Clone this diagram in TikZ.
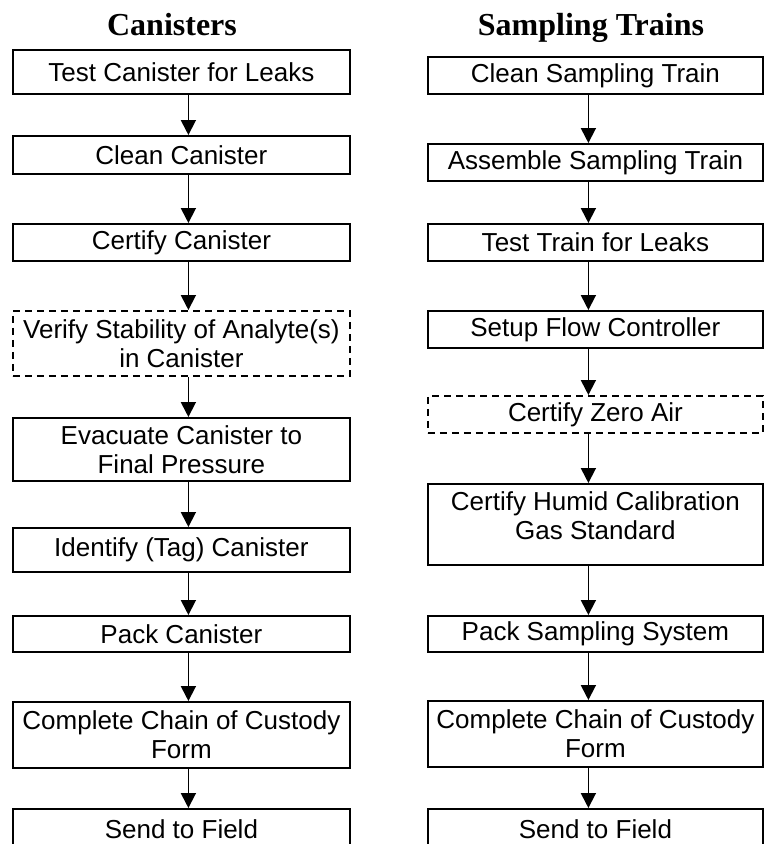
\documentclass[tikz,border=0pt]{standalone}
\usepackage{fontspec}
\setmainfont{Liberation Serif}
\setsansfont{Liberation Sans}
\usetikzlibrary{arrows.meta}
\begin{document}
\begin{tikzpicture}[x=1pt,y=-1pt,
  box/.style={draw, line width=1.8pt, font=\sffamily\fontsize{26}{29}\selectfont, align=center, inner sep=0pt, anchor=north west},
  dbox/.style={box, dash pattern=on 7pt off 5pt},
  arr/.style={line width=1.8pt, -{Triangle[width=15pt,length=15pt]}},
  title/.style={font=\rmfamily\bfseries\fontsize{32}{36}\selectfont, anchor=base}]
\useasboundingbox (0,0) rectangle (764,844);
\node[title] (t1) at (172,35) {Canisters};
\node[title] (t2) at (591,35) {Sampling Trains};
% left column
\node[box, minimum width=337pt, minimum height=44pt] (L1) at (12,49) {Test Canister for Leaks};
\node[box, minimum width=337pt, minimum height=38pt] (L2) at (12,135) {Clean Canister};
\node[box, minimum width=337pt, minimum height=37pt] (L3) at (12,223) {Certify Canister};
\node[dbox, minimum width=337pt, minimum height=65pt] (L4) at (12,310) {Verify Stability of Analyte(s)\\in Canister};
\node[box, minimum width=337pt, minimum height=63pt] (L5) at (12,417) {Evacuate Canister to\\Final Pressure};
\node[box, minimum width=337pt, minimum height=44pt] (L6) at (12,527) {Identify (Tag) Canister};
\node[box, minimum width=337pt, minimum height=36pt] (L7) at (12,615) {Pack Canister};
\node[box, minimum width=337pt, minimum height=66pt] (L8) at (12,701) {Complete Chain of Custody\\Form};
\node[box, minimum width=337pt, minimum height=40pt] (L9) at (12,808) {Send to Field};
% right column
\node[box, minimum width=335pt, minimum height=37pt] (R1) at (427,56) {Clean Sampling Train};
\node[box, minimum width=335pt, minimum height=37pt] (R2) at (427,143) {Assemble Sampling Train};
\node[box, minimum width=335pt, minimum height=37pt] (R3) at (427,223) {Test Train for Leaks};
\node[box, minimum width=335pt, minimum height=37pt] (R4) at (427,310) {Setup Flow Controller};
\node[dbox, minimum width=335pt, minimum height=37pt] (R5) at (427,395) {Certify Zero Air};
\node[box, minimum width=335pt, minimum height=81pt, text depth=18pt] (R6) at (427,483) {Certify Humid Calibration\\Gas Standard};
\node[box, minimum width=335pt, minimum height=36pt] (R7) at (427,615) {Pack Sampling System};
\node[box, minimum width=335pt, minimum height=66pt] (R8) at (427,700) {Complete Chain of Custody\\Form};
\node[box, minimum width=335pt, minimum height=40pt] (R9) at (427,808) {Send to Field};
% arrows
\foreach \a/\b in {L1/L2,L2/L3,L3/L4,L4/L5,L5/L6,L6/L7,L7/L8,L8/L9}
  \draw[arr] ([xshift=7pt]\a.south) -- ([xshift=7pt]\b.north);
\foreach \a/\b in {R1/R2,R2/R3,R3/R4,R4/R5,R5/R6,R6/R7,R7/R8,R8/R9}
  \draw[arr] ([xshift=-7pt]\a.south) -- ([xshift=-7pt]\b.north);
\end{tikzpicture}
\end{document}
